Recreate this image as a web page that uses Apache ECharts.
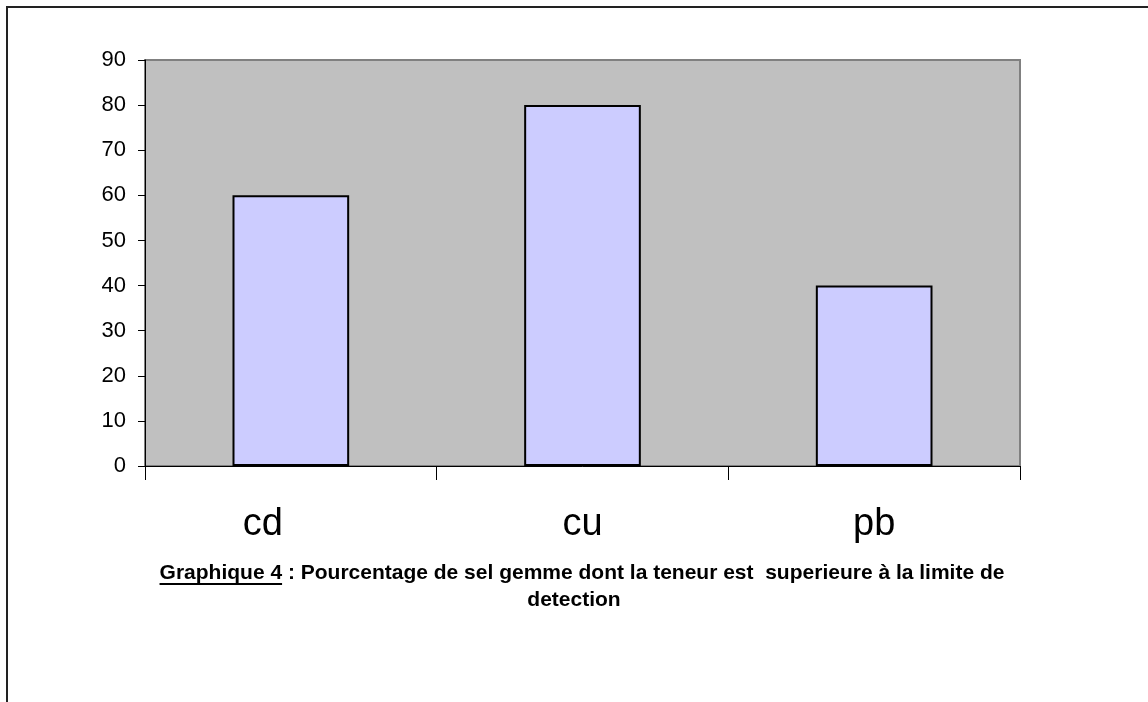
<!DOCTYPE html>
<html>
<head>
<meta charset="utf-8">
<script src="https://cdn.jsdelivr.net/npm/echarts@6/dist/echarts.min.js"></script>
<style>
  html, body { margin: 0; padding: 0; background: #fff; }
  #chart { width: 1148px; height: 702px; }
</style>
</head>
<body>
<div id="chart"></div>
<script>
// données
const categories = ['cd', 'cu', 'pb']
const values = [60, 80, 40]
const yTicks = [0, 10, 20, 30, 40, 50, 60, 70, 80, 90]

const captionBold = 'Graphique 4'
const captionRest = ' : Pourcentage de sel gemme dont la teneur est  superieure à la limite de'
const captionLine2 = 'detection'

const font = '"Liberation Sans", Arial, sans-serif'
const capFont = 'bold 21px ' + font
const chart = echarts.init(document.getElementById('chart'))

// mesure du texte pour souligner "Graphique 4"
const ctx = document.createElement('canvas').getContext('2d')
ctx.font = capFont
const wBold = ctx.measureText(captionBold).width
const wAll = ctx.measureText(captionBold + captionRest).width
const capX = 582 - wAll / 2

const option = {
  animation: false,
  textStyle: { fontFamily: font },
  grid: {
    left: 145, top: 60, right: 128, bottom: 236,
    show: true,
    backgroundColor: '#C0C0C0',
    borderColor: '#808080',
    borderWidth: 2
  },
  xAxis: {
    type: 'category',
    // le libellé "cd" est décalé vers la gauche dans l'original
    data: categories.map((c, i) => i === 0
      ? { value: c, textStyle: { padding: [0, 56, 0, 0] } }
      : c),
    axisLine: { lineStyle: { color: '#000', width: 1 } },
    axisTick: { show: true, length: 14, lineStyle: { color: '#000' } },
    axisLabel: { fontSize: 38, color: '#000', margin: 40, fontFamily: font }
  },
  yAxis: {
    type: 'value',
    min: yTicks[0],
    max: yTicks[yTicks.length - 1],
    interval: yTicks[1] - yTicks[0],
    axisLine: { show: true, lineStyle: { color: '#000', width: 1 } },
    axisTick: { show: true, length: 7, lineStyle: { color: '#000' } },
    splitLine: { show: false },
    axisLabel: { fontSize: 22, color: '#000', margin: 19, fontFamily: font }
  },
  series: [{
    type: 'bar',
    data: values,
    barWidth: '40%',
    itemStyle: { color: '#CCCCFF', borderColor: '#000', borderWidth: 2 }
  }],
  graphic: [
    // cadre
    {
      type: 'polyline',
      shape: { points: [[7, 702], [7, 7], [1148, 7]] },
      style: { stroke: '#222', lineWidth: 2, fill: null }
    },
    {
      type: 'text',
      left: capX, top: 563,
      style: { text: captionBold + captionRest, font: capFont, fill: '#000' }
    },
    {
      type: 'line',
      shape: { x1: capX, y1: 584, x2: capX + wBold, y2: 584 },
      style: { stroke: '#000', lineWidth: 2 }
    },
    {
      type: 'text',
      left: 'center', top: 590,
      style: { text: captionLine2, font: capFont, fill: '#000' }
    }
  ]
}
chart.setOption(option)
</script>
</body>
</html>
